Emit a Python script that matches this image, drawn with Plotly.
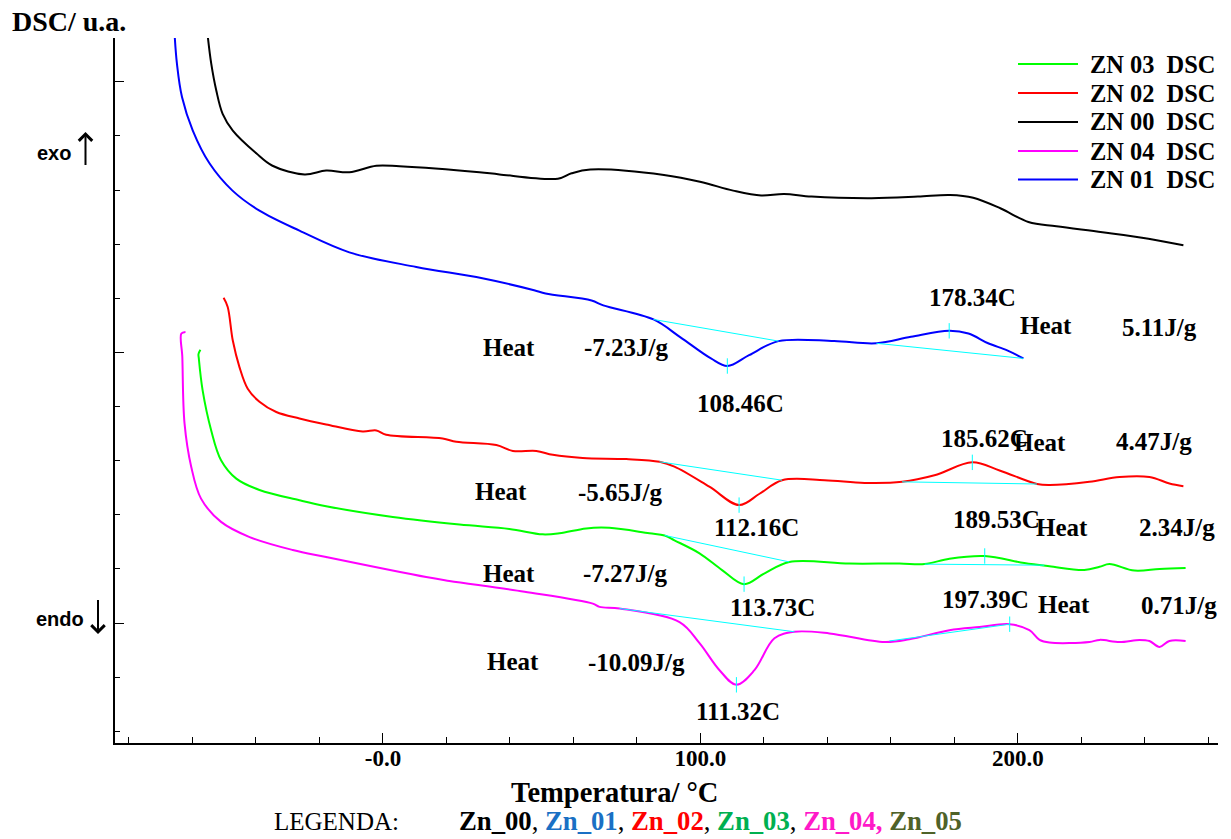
import plotly.graph_objects as go

# ---------------- data (Temperature in °C, DSC signal in arbitrary units) ----------------
t_zn00 = [-55.2, -54.1, -52.5, -50.5, -47.3, -39.9, -34.8, -24.7, -17.9, -10.6, -2.1, 5.2, 30.4, 36.7,
          55.1, 59.4, 65.3, 88.5, 100.2, 110.3, 119.1, 126.3, 135.0, 153.9, 168.5, 178.6, 185.9, 194.6,
          203.3, 212.1, 226.6, 241.1, 252.1]
y_zn00 = [10.85, 10.34, 9.84, 9.41, 9.10, 8.68, 8.45, 8.29, 8.36, 8.33, 8.45, 8.44, 8.33, 8.29,
          8.21, 8.31, 8.38, 8.28, 8.15, 7.99, 7.90, 7.93, 7.88, 7.85, 7.88, 7.91, 7.86, 7.66,
          7.41, 7.33, 7.22, 7.10, 6.98]

t_zn01 = [-65.6, -64.9, -63.3, -59.9, -54.6, -47.4, -38.9, -26.3, -10.6, 10.5, 31.3, 47.6, 51.2, 65.7,
          69.4, 85.2, 93.7, 103.3, 108.5, 115.3, 124.6, 142.1, 155.4, 166.3, 178.3, 184.4, 190.6,
          196.6, 201.7]
y_zn01 = [10.85, 10.34, 9.72, 9.10, 8.49, 7.99, 7.62, 7.25, 6.85, 6.58, 6.37, 6.15, 6.09, 5.96,
          5.87, 5.61, 5.28, 4.89, 4.75, 4.95, 5.21, 5.21, 5.17, 5.29, 5.40, 5.35, 5.17,
          5.04, 4.89]

t_zn02 = [-50.2, -48.9, -47.3, -45.2, -42.6, -38.9, -33.6, -26.3, -17.9, -6.4, -2.1, 1.0, 18.8, 23.1,
          35.7, 40.9, 48.3, 53.5, 62.9, 76.6, 87.1, 91.8, 102.8, 112.2, 118.6, 125.7, 139.1, 151.7,
          163.5, 173.7, 185.6, 194.2, 206.0, 209.9, 222.5, 232.0, 241.4, 247.7, 252.1]
y_zn02 = [6.01, 5.84, 5.22, 4.73, 4.33, 4.09, 3.90, 3.78, 3.67, 3.54, 3.56, 3.48, 3.41, 3.35,
          3.29, 3.18, 3.18, 3.11, 3.05, 3.03, 2.98, 2.89, 2.52, 2.18, 2.39, 2.64, 2.64, 2.59,
          2.61, 2.73, 2.97, 2.82, 2.57, 2.55, 2.61, 2.70, 2.70, 2.58, 2.53]

t_zn03 = [-57.5, -58.1, -58.0, -56.8, -54.1, -51.0, -46.2, -38.9, -26.3, -17.9, 3.1, 24.1, 39.8, 50.3,
          55.6, 64.0, 71.3, 83.9, 88.7, 91.8, 99.7, 106.8, 113.7, 120.2, 128.0, 146.9, 162.7, 170.6,
          178.4, 189.5, 202.0, 209.9, 220.9, 225.7, 228.8, 236.7, 244.6, 252.8]
y_zn03 = [5.05, 4.97, 4.89, 4.30, 3.56, 3.01, 2.67, 2.46, 2.27, 2.16, 1.96, 1.82, 1.74, 1.64,
          1.66, 1.75, 1.76, 1.66, 1.62, 1.53, 1.29, 0.98, 0.72, 0.92, 1.13, 1.10, 1.10, 1.09,
          1.19, 1.24, 1.11, 1.05, 0.98, 1.04, 1.09, 0.97, 1.00, 1.02]

t_zn04 = [-62.2, -63.5, -63.2, -62.5, -60.4, -57.3, -51.0, -42.0, -28.4, -17.9, 13.6, 20.9, 44.6, 66.1,
          68.2, 74.5, 93.4, 99.7, 106.0, 111.3, 117.0, 123.3, 129.6, 140.6, 158.0, 165.8, 178.4,
          187.9, 197.4, 203.6, 206.8, 209.9, 222.5, 225.7, 232.0, 238.3, 241.4, 244.6, 247.7, 252.8]
y_zn04 = [5.38, 5.35, 4.92, 3.69, 2.89, 2.30, 1.87, 1.59, 1.35, 1.22, 0.85, 0.78, 0.58, 0.36,
          0.30, 0.27, 0.02, -0.37, -0.87, -1.14, -0.87, -0.28, -0.16, -0.19, -0.35, -0.30, -0.13,
          -0.07, -0.02, -0.13, -0.31, -0.36, -0.35, -0.31, -0.35, -0.31, -0.33, -0.44, -0.33, -0.33]

# integration baselines (two segments each, separated by None)
base_zn01_t = [85.2, 124.6, None, 155.4, 201.7]
base_zn01_y = [5.61, 5.21, None, 5.17, 4.89]
base_zn02_t = [87.1, 125.7, None, 163.5, 206.0]
base_zn02_y = [2.98, 2.64, None, 2.61, 2.57]
base_zn03_t = [88.7, 128.0, None, 170.6, 208.3]
base_zn03_y = [1.62, 1.13, None, 1.09, 1.07]
base_zn04_t = [74.5, 129.6, None, 159.5, 197.4]
base_zn04_y = [0.27, -0.16, None, -0.33, -0.02]

# peak temperatures (°C) and signal at the peaks
peak_zn01_t = [108.46, 178.34]
peak_zn01_y = [4.75, 5.40]
peak_zn02_t = [112.16, 185.62]
peak_zn02_y = [2.18, 2.97]
peak_zn03_t = [113.73, 189.53]
peak_zn03_y = [0.72, 1.24]
peak_zn04_t = [111.32, 197.39]
peak_zn04_y = [-1.14, -0.02]

# enthalpies (J/g): endotherm, exotherm
heat_zn01 = ["-7.23J/g", "5.11J/g"]
heat_zn02 = ["-5.65J/g", "4.47J/g"]
heat_zn03 = ["-7.27J/g", "2.34J/g"]
heat_zn04 = ["-10.09J/g", "0.71J/g"]

x_tick_vals = [0, 100, 200]
x_tick_text = ["-0.0", "100.0", "200.0"]

# ---------------- figure ----------------
SERIF = "Liberation Serif, Times New Roman, serif"
SANS = "Liberation Sans, Arial, sans-serif"
fig = go.Figure()

# legend order as in the reference
series = [
    ("ZN 03\u00a0 DSC", t_zn03, y_zn03, "#00ff00"),
    ("ZN 02\u00a0 DSC", t_zn02, y_zn02, "#ff0000"),
    ("ZN 00\u00a0 DSC", t_zn00, y_zn00, "#000000"),
    ("ZN 04\u00a0 DSC", t_zn04, y_zn04, "#ff00ff"),
    ("ZN 01\u00a0 DSC", t_zn01, y_zn01, "#0000ff"),
]
for name, t, y, c in series:
    fig.add_trace(go.Scatter(x=t, y=y, mode="lines", name=name, showlegend=False,
                             line=dict(color=c, width=2, shape="spline", smoothing=1.0)))

for bt, by in [(base_zn01_t, base_zn01_y), (base_zn02_t, base_zn02_y),
               (base_zn03_t, base_zn03_y), (base_zn04_t, base_zn04_y)]:
    fig.add_trace(go.Scatter(x=bt, y=by, mode="lines", showlegend=False, hoverinfo="skip",
                             line=dict(color="#00ffff", width=1)))

for pt, py in [(peak_zn01_t, peak_zn01_y), (peak_zn02_t, peak_zn02_y),
               (peak_zn03_t, peak_zn03_y), (peak_zn04_t, peak_zn04_y)]:
    fig.add_trace(go.Scatter(x=pt, y=py, mode="markers", showlegend=False, hoverinfo="skip",
                             marker=dict(symbol="line-ns", size=11, color="#00ffff",
                                         line=dict(color="#00ffff", width=1))))

# ---------------- text labels on the curves ----------------
label_font = dict(family=SERIF, size=25, color="black", weight="bold")
curve_labels = [
    # (text, T, y)
    ("Heat", 39.6, 5.10), (heat_zn01[0], 76.7, 5.10), (f"{peak_zn01_t[0]:.2f}C", 112.6, 4.06),
    (f"{peak_zn01_t[1]:.2f}C", 185.7, 6.02), ("Heat", 208.7, 5.50), (heat_zn01[1], 244.6, 5.46),
    ("Heat", 37.3, 2.44), (heat_zn02[0], 74.8, 2.42), (f"{peak_zn02_t[0]:.2f}C", 117.6, 1.77),
    (f"{peak_zn02_t[1]:.2f}C", 189.4, 3.42), ("Heat", 206.8, 3.34), (heat_zn02[1], 242.7, 3.36),
    ("Heat", 39.6, 0.92), (heat_zn03[0], 76.4, 0.92), (f"{peak_zn03_t[0]:.2f}C", 122.7, 0.28),
    (f"{peak_zn03_t[1]:.2f}C", 193.2, 1.92), ("Heat", 214.0, 1.77), (heat_zn03[1], 250.2, 1.77),
    ("Heat", 40.8, -0.70), (heat_zn04[0], 79.8, -0.72), (f"{peak_zn04_t[0]:.2f}C", 111.7, -1.64),
    (f"{peak_zn04_t[1]:.2f}C", 189.8, 0.44), ("Heat", 214.6, 0.35), (heat_zn04[1], 250.8, 0.33),
]
annotations = []
for txt, tx, ty in curve_labels:
    annotations.append(dict(text=txt, x=tx, y=ty, xref="x", yref="y", showarrow=False,
                            xanchor="center", yanchor="middle", font=label_font))

# ---------------- legend (top right, long line samples) ----------------
def px_x(p):  # pixel column -> paper x
    return (p - 115) / 1103


def px_y(p):  # pixel row -> paper y
    return (743 - p) / 705


shapes = []
legend_rows = [64, 93, 122, 151, 179.5]
for (name, _t, _y, c), row in zip(series, legend_rows):
    shapes.append(dict(type="line", xref="paper", yref="paper",
                       x0=px_x(1018), x1=px_x(1078), y0=px_y(row), y1=px_y(row),
                       line=dict(color=c, width=2)))
    annotations.append(dict(text=name, x=px_x(1088), y=px_y(row), xref="paper", yref="paper",
                            xanchor="left", yanchor="middle", showarrow=False,
                            font=dict(family=SERIF, size=24.4, color="black", weight="bold")))

# ---------------- page texts ----------------
annotations += [
    dict(text="<b>DSC/ u.a.</b>", x=px_x(10), y=px_y(22), xref="paper", yref="paper",
         xanchor="left", yanchor="middle", showarrow=False,
         font=dict(family=SERIF, size=28, color="black")),
    dict(text="<b>exo</b>", x=px_x(73), y=px_y(153), xref="paper", yref="paper",
         xanchor="right", yanchor="middle", showarrow=False,
         font=dict(family=SANS, size=20, color="black")),
    dict(text=" ", x=px_x(85.5), y=px_y(132), xref="paper", yref="paper",
         showarrow=True, ax=0, ay=35, arrowhead=4, arrowsize=1.3, arrowwidth=2,
         arrowcolor="black", font=dict(size=1)),
    dict(text="<b>endo</b>", x=px_x(86), y=px_y(619), xref="paper", yref="paper",
         xanchor="right", yanchor="middle", showarrow=False,
         font=dict(family=SANS, size=20, color="black")),
    dict(text=" ", x=px_x(98), y=px_y(634), xref="paper", yref="paper",
         showarrow=True, ax=0, ay=-36, arrowhead=4, arrowsize=1.3, arrowwidth=2,
         arrowcolor="black", font=dict(size=1)),
    dict(text="<b>Temperatura/ °C</b>", x=px_x(614), y=px_y(792), xref="paper", yref="paper",
         xanchor="center", yanchor="middle", showarrow=False,
         font=dict(family=SERIF, size=28.5, color="black")),
    dict(text="LEGENDA:", x=px_x(272), y=0, xref="paper", yref="paper",
         yshift=-(839 - 743) + 2, xanchor="left", yanchor="bottom", showarrow=False,
         font=dict(family=SERIF, size=25, color="black")),
    dict(text=("<b>Zn_00</b>, <b><span style='color:#1a70c4'>Zn_01</span></b>, "
               "<b><span style='color:#ff0000'>Zn_02</span></b>, "
               "<b><span style='color:#00b050'>Zn_03</span></b>, "
               "<b><span style='color:#ff19c8'>Zn_04,</span></b> "
               "<b><span style='color:#4f6228'>Zn_05</span></b>"),
         x=px_x(457), y=0, xref="paper", yref="paper",
         yshift=-(839 - 743) + 1, xanchor="left", yanchor="bottom", showarrow=False,
         font=dict(family=SERIF, size=26.7, color="black")),
]

fig.update_layout(
    width=1231, height=839, autosize=False,
    margin=dict(l=115, r=13, t=38, b=96),
    paper_bgcolor="white", plot_bgcolor="white",
    showlegend=False,
    annotations=annotations,
    shapes=shapes,
    xaxis=dict(range=[-84.4, 263.0], showgrid=False, zeroline=False,
               showline=True, linecolor="black", linewidth=1.5,
               ticks="inside", ticklen=10, tickcolor="black", tickwidth=1,
               tickmode="array", tickvals=x_tick_vals, ticktext=x_tick_text,
               ticklabelstandoff=-6,
               tickfont=dict(family=SERIF, size=23, color="black", weight="bold"),
               minor=dict(dtick=20, tick0=0, ticks="inside", ticklen=6, tickcolor="black",
                          tickwidth=1, showgrid=False)),
    yaxis=dict(range=[-2.215, 10.81], showgrid=False, zeroline=False,
               showline=True, linecolor="black", linewidth=1.5,
               ticks="inside", ticklen=9, tickcolor="black", tickwidth=1,
               dtick=5, tick0=0, showticklabels=False,
               minor=dict(dtick=1, tick0=0, ticks="inside", ticklen=5, tickcolor="black",
                          tickwidth=1, showgrid=False)),
)

fig.write_html("out.html", config={"displayModeBar": False},
               post_script="document.body.style.margin='0';")
